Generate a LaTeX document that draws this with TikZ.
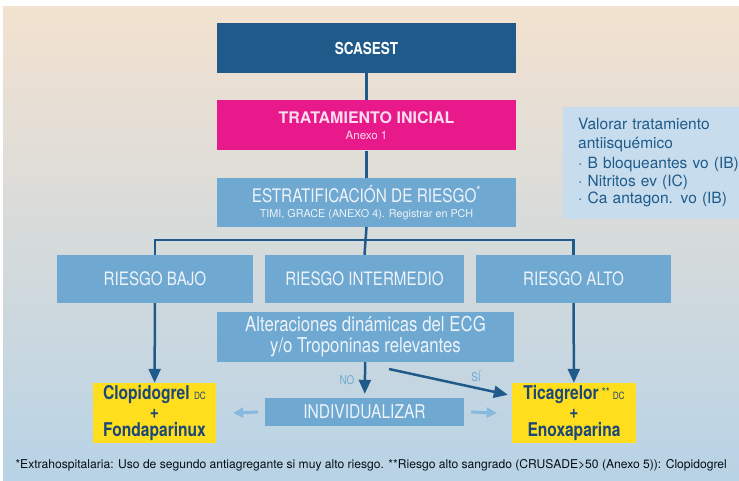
\documentclass[tikz,border=0pt]{standalone}
\usepackage{fontspec}
\setmainfont{TeX Gyre Heros}[FakeStretch=0.82]
\newfontfamily\valfont{TeX Gyre Heros}
\usepackage{tikz}
\usetikzlibrary{arrows.meta,positioning,calc}
\definecolor{scablue}{RGB}{31,90,138}
\definecolor{tratpink}{RGB}{232,25,139}
\definecolor{midblue}{RGB}{111,168,208}
\definecolor{paleblue}{RGB}{199,221,238}
\definecolor{drugyellow}{RGB}{255,222,30}
\definecolor{drugtext}{RGB}{28,72,120}
\definecolor{lightarrow}{RGB}{135,185,222}
\definecolor{bgtop}{RGB}{243,226,208}
\definecolor{bgbot}{RGB}{184,211,230}
\definecolor{boxtext}{RGB}{236,243,250}

\begin{document}
\begin{tikzpicture}[
        x=1pt, y=-1pt,
        box/.style={rectangle, inner sep=0pt, align=center},
        head/.style={box, fill=scablue, text=white, minimum width=299pt, minimum height=50pt, font=\bfseries\fontsize{16.5}{18}\selectfont},
        trat/.style={box, fill=tratpink, text=white!85!tratpink, minimum width=299pt, minimum height=50pt, font=\valfont\fontsize{11.5}{16}\selectfont},
        step box/.style={box, fill=midblue, text=boxtext},
        risk/.style={step box, minimum height=48pt, font=\fontsize{18.5}{20}\selectfont},
        drug/.style={box, fill=drugyellow, text=drugtext, minimum height=60pt, font=\bfseries\fontsize{19}{18.5}\selectfont},
        conn/.style={draw=scablue, line width=2.5pt},
        arr/.style={conn, -{Triangle[length=14pt,width=12pt]}},
        larr/.style={draw=lightarrow, line width=3pt, -{Triangle[length=10pt,width=10pt]}},
        lab/.style={text=midblue, font=\fontsize{12}{12}\selectfont}
    ]
        \useasboundingbox (0,0) rectangle (739,481);
        \shade[top color=bgtop, bottom color=bgbot] (3,7) rectangle (739,481);

        \node[head] (scasest) at (366.5,48) {SCASEST};
        \node[trat, below=27pt of scasest] (tratini) {{\bfseries\fontsize{16}{16}\selectfont TRATAMIENTO INICIAL}\\Anexo 1};
        \node[step box, minimum width=299pt, minimum height=49pt, below=27pt of tratini, font=\valfont\fontsize{10.8}{15}\selectfont] (estrat) {{\rmfamily\fontsize{18.7}{15}\selectfont ESTRATIFICACIÓN DE RIESGO\textsuperscript{*}}\\TIMI, GRACE (ANEXO 4). Registrar en PCH};
        \node[box, fill=paleblue, text=scablue, anchor=west, minimum height=112pt, inner xsep=15pt, text width=165pt, align=left, font=\valfont\fontsize{15.5}{17.5}\selectfont] (valorar) at (563,163) {Valorar tratamiento\\[1pt]antiisquémico\\[3pt]\textperiodcentered{} B bloqueantes vo (IB)\\\textperiodcentered{} Nitritos ev (IC)\\\textperiodcentered{} Ca antagon. vo (IB)};

        \node[risk, minimum width=196pt] (bajo) at (155,279) {RIESGO BAJO};
        \node[risk, minimum width=199pt] (inter) at (364.5,279) {RIESGO INTERMEDIO};
        \node[risk, minimum width=195pt] (alto) at (573.5,279) {RIESGO ALTO};
        \node[step box, minimum width=297pt, minimum height=50pt, font=\fontsize{20.5}{21}\selectfont] (alter) at (365.5,337) {Alteraciones dinámicas del ECG\\y/o Troponinas relevantes};

        \node[drug, minimum width=123pt] (clop) at (154.5,413) {Clopidogrel {\mdseries\fontsize{10}{9}\selectfont DC}\\+\\Fondaparinux};
        \node[step box, minimum width=199pt, minimum height=28pt, font=\fontsize{19}{20}\selectfont] (indiv) at (364.5,412) {INDIVIDUALIZAR};
        \node[drug, minimum width=124pt] (tica) at (574,413) {Ticagrelor\,\raisebox{3pt}{\mdseries\fontsize{12}{9}\selectfont**}\,{\mdseries\fontsize{10}{9}\selectfont DC}\\+\\Enoxaparina};

        \coordinate (split) at (365,240);
        \coordinate (sistart) at (389,369);
        \draw[conn] (scasest) -- (tratini);
        \draw[conn] (tratini) -- (estrat);
        \draw[conn] (estrat.south) -- (inter.north);
        \draw[conn] (bajo.north) |- (split) -| (alto.north);

        \draw[arr] (bajo) -- (clop);
        \draw[arr] (alto) -- (tica);
        \draw[arr, shorten >=4pt] (alter) -- (indiv);
        \draw[arr] (sistart) -- ([shift={(-4,12)}]tica.north west);
        \node[lab] (no) at (347,380) {NO};
        \node[lab] (si) at (476,376) {SÍ};

        \draw[larr] ([xshift=-7pt]indiv.west) -- ([xshift=17pt]clop.east);
        \draw[larr] ([xshift=7pt]indiv.east) -- ([xshift=-15pt]tica.west);

        \node[anchor=west, text=black!85!scablue, font=\valfont\fontsize{12.1}{14}\selectfont] (nota) at (12,465) {*Extrahospitalaria: Uso de segundo antiagregante si muy alto riesgo. **Riesgo alto sangrado (CRUSADE>50 (Anexo 5)): Clopidogrel};
    \end{tikzpicture}
\end{document}
